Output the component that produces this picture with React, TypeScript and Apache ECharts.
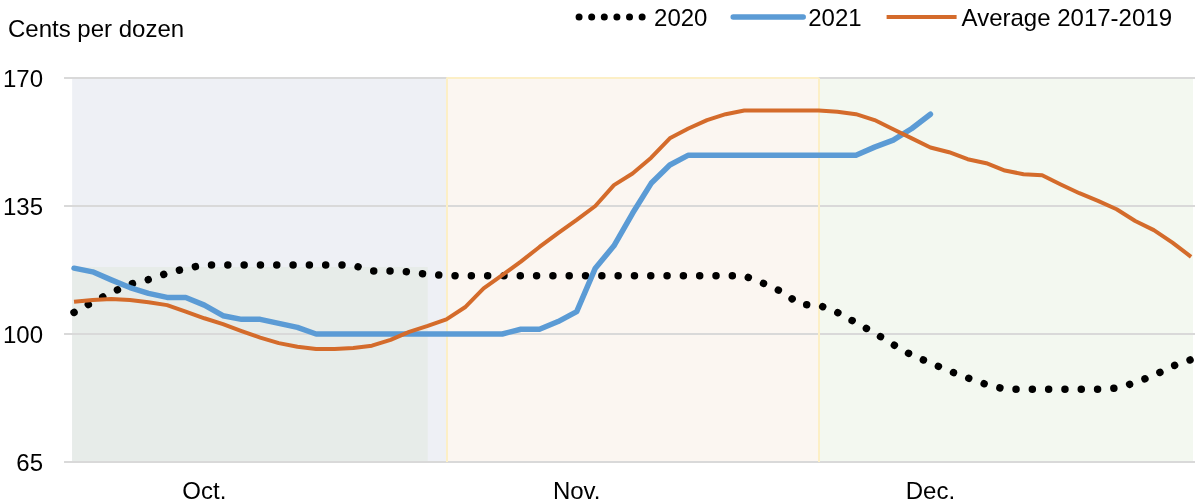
import React, { useEffect, useRef } from "react";
import * as echarts from "echarts";

const FONT = "'Liberation Sans', Arial, Helvetica, sans-serif";

// Month labels on the x axis and the observation index they sit under
const MONTH_LABELS = ["Oct.", "Nov.", "Dec."];
const MONTH_LABEL_AT = [7, 27, 46];

// Value-axis ticks (cents per dozen)
const Y_TICKS = [65, 100, 135, 170];

// Month band edges, in observation index
const BAND_EDGES = [-0.1, 20, 40, 60.1];
// Lower tinted block inside October: [from index, to index, top value]
const OCT_LOW_BLOCK = [-0.1, 19, 118.3];

const PRICES_2020 = [
  105.9, 108.7, 111.3, 113.6, 114.9, 116.6, 117.9, 118.9, 118.9, 118.9,
  118.9, 118.9, 118.9, 118.9, 118.9, 118.8, 117.2, 117.2, 117.0, 116.3,
  116.0, 115.9, 115.9, 115.9, 115.9, 115.9, 115.9, 115.9, 115.9, 115.9,
  115.9, 115.9, 115.9, 115.9, 115.9, 115.9, 115.9, 113.9, 111.6, 108.1,
  107.9, 105.9, 103.1, 100.3, 97.1, 94.2, 92.1, 89.9, 88.0, 86.2,
  84.9, 84.9, 84.9, 84.9, 84.9, 84.9, 85.2, 86.7, 88.7, 91.2,
  93.0,
];

const PRICES_2021 = [
  118.0, 117.0, 114.8, 112.7, 111.1, 110.0, 110.0, 107.9, 105.0, 104.0,
  104.0, 102.9, 101.8, 100.0, 100.0, 100.0, 100.0, 100.0, 100.0, 100.0,
  100.0, 100.0, 100.0, 100.0, 101.3, 101.3, 103.4, 106.1, 118.0, 124.1,
  133.0, 141.2, 146.2, 148.9, 148.9, 148.9, 148.9, 148.9, 148.9, 148.9,
  148.9, 148.9, 148.9, 151.1, 153.0, 156.2, 160.1,
];

const AVG_2017_2019 = [
  108.8, 109.3, 109.6, 109.3, 108.7, 107.9, 106.1, 104.3, 102.7, 100.8,
  99.0, 97.5, 96.5, 95.9, 95.9, 96.2, 96.8, 98.4, 100.6, 102.2,
  104.0, 107.3, 112.5, 116.1, 119.8, 123.8, 127.6, 131.2, 135.0, 140.7,
  143.9, 148.2, 153.5, 156.2, 158.5, 160.1, 161.1, 161.1, 161.1, 161.1,
  161.1, 160.8, 160.1, 158.5, 156.0, 153.5, 151.0, 149.7, 147.8, 146.7,
  144.7, 143.7, 143.4, 140.9, 138.5, 136.4, 134.1, 130.9, 128.4, 125.0,
  121.1,
];

const toPoints = (values: number[]) => values.map((v, i) => [i, v]);

export default function App() {
  const ref = useRef<HTMLDivElement>(null);

  useEffect(() => {
    if (!ref.current) return;
    const chart = echarts.init(ref.current, null, { renderer: "svg" });
    const yMin = Y_TICKS[0];
    const yMax = Y_TICKS[Y_TICKS.length - 1];
    const bandColors = ["#eef0f5", "#fbf6f1", "#f3f8f0"];
    const blue = "#5b9bd5";
    const orange = "#d46b2b";

    chart.setOption({
      animation: false,
      textStyle: { fontFamily: FONT },
      grid: { left: 62, right: 0, top: 78, height: 384 },
      title: {
        text: "Cents per dozen",
        left: 8,
        top: 16,
        padding: 0,
        textStyle: { fontFamily: FONT, fontSize: 24, fontWeight: "normal", color: "#000" },
      },
      legend: {
        top: 0,
        right: 18,
        itemWidth: 70,
        itemHeight: 14,
        itemGap: 23,
        // line-only legend keys (no marker in the middle)
        itemStyle: { opacity: 0 },
        textStyle: { fontFamily: FONT, fontSize: 24, color: "#000" },
        data: [
          {
            name: "2020",
            lineStyle: { type: [0.01, 12.6], width: 7, cap: "round", color: "#000" },
          },
          { name: "2021", lineStyle: { width: 5.5, cap: "round", color: blue } },
          { name: "Average 2017-2019", lineStyle: { width: 4, cap: "butt", color: orange } },
        ],
      },
      xAxis: {
        type: "value",
        min: -0.536,
        max: 60.21,
        axisLine: { show: false },
        axisTick: { show: false },
        splitLine: { show: false },
        axisLabel: {
          customValues: MONTH_LABEL_AT,
          formatter: (v: number) => MONTH_LABELS[MONTH_LABEL_AT.indexOf(Math.round(v))] ?? "",
          fontFamily: FONT,
          fontSize: 24,
          color: "#000",
          margin: 16,
        },
      },
      yAxis: {
        type: "value",
        min: yMin,
        max: yMax,
        axisLine: { show: false },
        axisTick: { show: false },
        splitLine: { show: false },
        axisLabel: {
          customValues: Y_TICKS,
          fontFamily: FONT,
          fontSize: 24,
          color: "#000",
          margin: 21,
        },
      },
      series: [
        {
          // month background bands
          type: "line",
          data: [],
          z: 1,
          silent: true,
          markArea: {
            silent: true,
            data: [
              ...bandColors.map((color, k) => [
                { xAxis: BAND_EDGES[k], yAxis: yMin, itemStyle: { color, opacity: 1 } },
                { xAxis: BAND_EDGES[k + 1], yAxis: yMax },
              ]),
              [
                { xAxis: OCT_LOW_BLOCK[0], yAxis: yMin, itemStyle: { color: "#e7ece9", opacity: 1 } },
                { xAxis: OCT_LOW_BLOCK[1], yAxis: OCT_LOW_BLOCK[2] },
              ],
            ],
          },
        },
        {
          // horizontal gridlines
          type: "line",
          data: [],
          z: 2,
          silent: true,
          markLine: {
            silent: true,
            symbol: "none",
            label: { show: false },
            lineStyle: { color: "#d9d9d9", width: 2, type: "solid" },
            data: Y_TICKS.map((v) => ({ yAxis: v })),
          },
        },
        {
          // outline of the November band
          type: "line",
          data: [],
          z: 3,
          silent: true,
          markLine: {
            silent: true,
            symbol: "none",
            label: { show: false },
            lineStyle: { color: "#fcefc6", width: 2, type: "solid" },
            data: [
              { xAxis: BAND_EDGES[1] },
              { xAxis: BAND_EDGES[2] },
              [
                { coord: [BAND_EDGES[1], yMax] },
                { coord: [BAND_EDGES[2], yMax] },
              ],
            ],
          },
        },
        {
          name: "2020",
          type: "line",
          z: 5,
          symbol: "none",
          data: toPoints(PRICES_2020),
          itemStyle: { color: "#000" },
          lineStyle: { color: "#000", width: 7.5, type: [0.01, 16.3], cap: "round" },
        },
        {
          name: "2021",
          type: "line",
          z: 6,
          symbol: "none",
          data: toPoints(PRICES_2021),
          itemStyle: { color: blue },
          lineStyle: { color: blue, width: 5.5, cap: "round", join: "round" },
        },
        {
          name: "Average 2017-2019",
          type: "line",
          z: 7,
          symbol: "none",
          data: toPoints(AVG_2017_2019),
          itemStyle: { color: orange },
          lineStyle: { color: orange, width: 4, join: "round" },
        },
      ],
    });

    return () => chart.dispose();
  }, []);

  return (
    <div
      ref={ref}
      style={{ position: "fixed", left: 0, top: 0, width: 1195, height: 502 }}
    />
  );
}
